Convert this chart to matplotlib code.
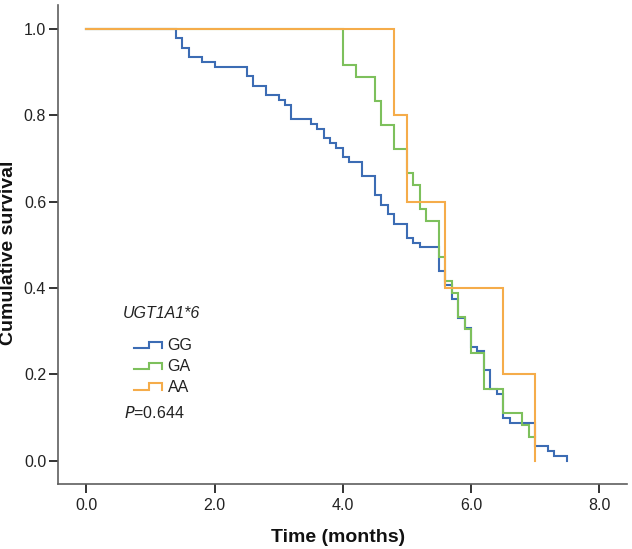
import matplotlib
matplotlib.use("Agg")
import matplotlib.pyplot as plt
from matplotlib.legend_handler import HandlerBase
from matplotlib.lines import Line2D

plt.rcParams['font.family'] = ['Liberation Sans', 'DejaVu Sans']

# ---- data ----
gg_time = [0, 1.4, 1.5, 1.6, 1.8, 2.0, 2.5, 2.6, 2.8, 3.0, 3.1, 3.2, 3.5, 3.6, 3.7, 3.8,
           3.9, 4.0, 4.1, 4.3, 4.5, 4.6, 4.7, 4.8, 5.0, 5.1, 5.2, 5.5, 5.6, 5.7, 5.8, 5.9,
           6.0, 6.1, 6.2, 6.3, 6.4, 6.5, 6.6, 7.0, 7.2, 7.3, 7.5]
gg_surv = [1.0, 0.978, 0.956, 0.934, 0.923, 0.912, 0.890, 0.868, 0.846, 0.835, 0.824, 0.791,
           0.780, 0.769, 0.747, 0.736, 0.725, 0.703, 0.692, 0.659, 0.615, 0.593, 0.571, 0.549,
           0.516, 0.505, 0.495, 0.440, 0.407, 0.374, 0.330, 0.308, 0.264, 0.253, 0.209, 0.165,
           0.154, 0.099, 0.088, 0.033, 0.022, 0.011, 0.0]

ga_time = [0, 4.0, 4.2, 4.5, 4.6, 4.8, 5.0, 5.1, 5.2, 5.3, 5.5, 5.6, 5.7, 5.8, 5.9, 6.0,
           6.2, 6.5, 6.8, 6.9, 7.0]
ga_surv = [1.0, 0.917, 0.889, 0.833, 0.778, 0.722, 0.667, 0.639, 0.583, 0.556, 0.472, 0.417,
           0.389, 0.333, 0.306, 0.250, 0.167, 0.111, 0.083, 0.056, 0.056]

aa_time = [0, 4.8, 5.0, 5.6, 6.5, 7.0]
aa_surv = [1.0, 0.8, 0.6, 0.4, 0.2, 0.0]

group_labels = ["GG", "GA", "AA"]
legend_title = "UGT1A1*6"
p_value = "0.644"
x_ticks = [0, 2, 4, 6, 8]
y_ticks = [0.0, 0.2, 0.4, 0.6, 0.8, 1.0]

colors = ["#3C6CB4", "#7DC05C", "#F5AC4A"]

fig = plt.figure(figsize=(6.32, 5.49), dpi=100)
ax = fig.add_axes([0.0918, 0.1178, 0.9002, 0.8731])

lw = 1.5
series = [(gg_time, gg_surv), (ga_time, ga_surv), (aa_time, aa_surv)]
handles = []
for (t, s), c, lab in zip(series, colors, group_labels):
    h, = ax.step(t, s, where='post', color=c, lw=lw, label=lab, solid_joinstyle='miter')
    handles.append(h)

ax.set_xlim(-0.44, 8.43)
ax.set_ylim(-0.0547, 1.0556)
ax.set_xticks(x_ticks)
ax.set_xticklabels([f"{v:.1f}" for v in x_ticks])
ax.set_yticks(y_ticks)
ax.set_yticklabels([f"{v:.1f}" for v in y_ticks])

for side in ['top', 'right']:
    ax.spines[side].set_visible(False)
for side in ['left', 'bottom']:
    ax.spines[side].set_color('#5f5f5f')
    ax.spines[side].set_linewidth(1.2)

ax.tick_params(axis='both', direction='out', length=6.3, width=1.4, color='#333333',
               labelsize=11.5, labelcolor='#222222')
ax.tick_params(axis='y', pad=2.2)
ax.tick_params(axis='x', pad=3.5)

ax.set_xlabel("Time (months)", fontsize=14, fontweight='bold', color='#111111')
ax.set_ylabel("Cumulative survival", fontsize=14, fontweight='bold', color='#111111')
ax.xaxis.set_label_coords((338 - 58) / 569, (484.3 - 528.5) / 479.3)
ax.yaxis.set_label_coords((17 - 58) / 569, (484.3 - 253) / 479.3)


class StepHandler(HandlerBase):
    def create_artists(self, legend, orig_handle, xdescent, ydescent, width, height,
                       fontsize, trans):
        x0 = -xdescent
        y0 = -ydescent
        lo = y0 + height * 0.15
        hi = y0 + height * 0.75
        xs = [x0, x0 + width * 0.52, x0 + width * 0.52, x0 + width, x0 + width]
        ys = [lo, lo, hi, hi, lo]
        ln = Line2D(xs, ys, color=orig_handle.get_color(), lw=lw, transform=trans,
                    solid_joinstyle='miter')
        return [ln]


leg = ax.legend(handles=handles, labels=group_labels, loc='upper left',
                bbox_to_anchor=((134 - 58) / 569, (484.3 - 338) / 479.3),
                frameon=False, fontsize=11.5, handlelength=1.75, handletextpad=0.35,
                labelspacing=0.37, borderpad=0, borderaxespad=0,
                handler_map={Line2D: StepHandler()})
for txt in leg.get_texts():
    txt.set_color('#222222')

ax.text((123 - 58) / 569, (484.3 - 313.5) / 479.3, legend_title, transform=ax.transAxes,
        fontsize=11.5, fontstyle='italic', ha='left', va='center', color='#222222')
ax.text((124 - 58) / 569, (484.3 - 412.7) / 479.3, "$\\it{P}$=" + p_value,
        transform=ax.transAxes, fontsize=11.5, ha='left', va='center', color='#222222')

fig.savefig("out.png", dpi=100)
